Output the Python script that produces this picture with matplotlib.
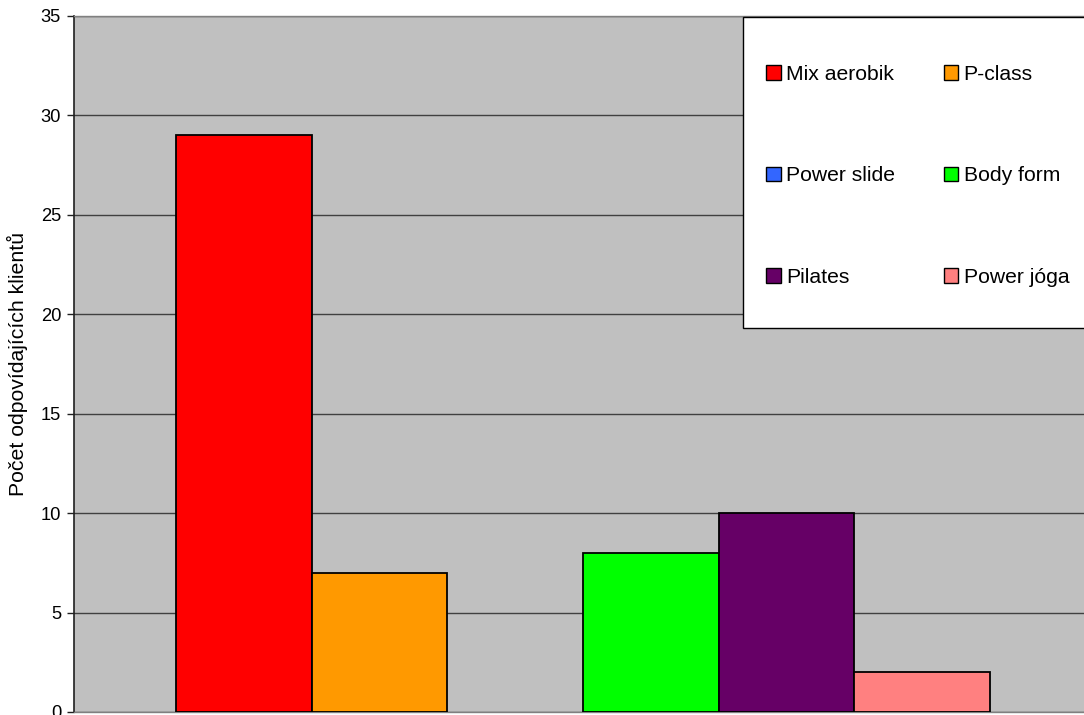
import matplotlib
matplotlib.use("Agg")
import matplotlib.pyplot as plt
from matplotlib.patches import Patch, Rectangle

plt.rcParams['font.family'] = ['Liberation Sans', 'DejaVu Sans']

labels = ["Mix aerobik", "P-class", "Power slide", "Body form", "Pilates", "Power jóga"]
values = [29, 7, 0, 8, 10, 2]
colors = ["#FF0000", "#FF9900", "#3366FF", "#00FF00", "#660066", "#FF8080"]
yticks = [0, 5, 10, 15, 20, 25, 30, 35]
ylabel = "Počet odpovídajících klientů"

W, H = 1084, 715
fig = plt.figure(figsize=(W / 100, H / 100), dpi=100)
ax = fig.add_axes([74 / W, 3 / H, (1092 - 74) / W, (712 - 16) / H])
ax.set_facecolor("#C0C0C0")

xs = list(range(len(values)))
for x, v, c in zip(xs, values, colors):
    if v > 0:
        ax.bar(x, v, width=1.0, color=c, edgecolor="black", linewidth=1.3, zorder=3)

ax.set_xlim(-1.25, 6.25)
ax.set_ylim(0, 35)
ax.set_yticks(yticks)
ax.set_xticks([])
ax.yaxis.grid(True, color="#404040", linewidth=1.0, zorder=1)
ax.tick_params(axis="y", direction="out", length=5, width=1.0, color="#202020",
               labelsize=13.2, pad=4.3)
for side in ["top", "right", "bottom"]:
    ax.spines[side].set_color("#808080")
    ax.spines[side].set_linewidth(1.0)
ax.spines["left"].set_color("#202020")
ax.spines["left"].set_linewidth(1.2)

fig.text(17 / W, 1 - 364 / H, ylabel, rotation=90, ha="center", va="center",
         fontsize=15.3)

# legend box
fig.add_artist(Rectangle((743 / W, 1 - 328 / H), (1100 - 743) / W, (328 - 17) / H,
                         transform=fig.transFigure, facecolor="white",
                         edgecolor="black", linewidth=1.0, zorder=5))

handles = [Patch(facecolor=c, edgecolor="black", linewidth=1.0) for c in colors]
order = [0, 2, 4, 1, 3, 5]
leg = fig.legend([handles[i] for i in order], [labels[i] for i in order],
                 ncol=2, loc="upper left",
                 bbox_to_anchor=(766 / W, 1 - 65 / H),
                 fontsize=15.2, frameon=False,
                 labelspacing=3.9, borderpad=0, handlelength=0.7,
                 handleheight=0.7, handletextpad=0.25, borderaxespad=0,
                 columnspacing=2.3)
leg.set_zorder(6)

fig.savefig("out.png", dpi=100, facecolor="white")
